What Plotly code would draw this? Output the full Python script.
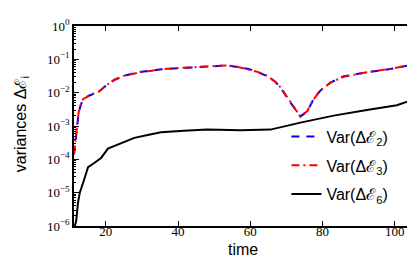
import plotly.graph_objects as go

time_var2 = [11.2, 11.6, 12.0, 12.5, 13.0, 13.7, 15.3, 16.5, 18.0, 20.0, 22.4, 25.0, 29.0,
             35.3, 41.6, 49.0, 53.7, 56.4, 59.6, 62.0, 64.7, 67.0, 68.4, 70.7, 72.5, 73.9,
             75.8, 77.5, 79.4, 82.2, 85.9, 92.3, 98.8, 104.8]
var2 = [1.4e-4, 3.2e-4, 1.0e-3, 2.5e-3, 4.0e-3, 6.3e-3, 8.1e-3, 9.3e-3, 1.05e-2, 1.6e-2,
        2.45e-2, 3.2e-2, 4.1e-2, 5.0e-2, 5.5e-2, 6.3e-2, 6.6e-2, 5.9e-2, 5.1e-2, 4.2e-2,
        3.1e-2, 2.1e-2, 1.4e-2, 5.9e-3, 3.2e-3, 1.95e-3, 2.7e-3, 6.3e-3, 1.15e-2, 2.0e-2,
        3.1e-2, 4.1e-2, 5.1e-2, 6.9e-2]
var3 = [1.5e-4, 3.4e-4, 1.05e-3, 2.6e-3, 4.1e-3, 6.4e-3, 8.0e-3, 9.4e-3, 1.06e-2, 1.62e-2,
        2.4e-2, 3.2e-2, 4.0e-2, 5.0e-2, 5.6e-2, 6.2e-2, 6.6e-2, 6.0e-2, 5.0e-2, 4.2e-2,
        3.2e-2, 2.1e-2, 1.45e-2, 6.0e-3, 3.1e-3, 1.9e-3, 2.8e-3, 6.2e-3, 1.15e-2, 2.0e-2,
        3.0e-2, 4.1e-2, 5.2e-2, 6.8e-2]

time_var6 = [11.2, 11.8, 12.3, 12.8, 13.7, 15.1, 16.9, 18.7, 20.6, 24.2, 27.9, 31.6, 35.3,
             41.6, 48.1, 57.3, 65.6, 73.9, 83.1, 92.3, 100.6, 104.8]
var6 = [8e-7, 1.4e-6, 5e-6, 1.0e-5, 1.95e-5, 5.8e-5, 7.9e-5, 1.1e-4, 2.1e-4, 2.95e-4,
        4.4e-4, 5.4e-4, 6.5e-4, 7.2e-4, 7.8e-4, 7.4e-4, 7.8e-4, 1.26e-3, 2.05e-3, 3.0e-3,
        4.2e-3, 6.0e-3]

x_ticks = [20, 40, 60, 80, 100]
y_ticks = [1e-6, 1e-5, 1e-4, 1e-3, 1e-2, 1e-1, 1]
y_tick_text = ["10<sup>−6</sup>", "10<sup>−5</sup>", "10<sup>−4</sup>", "10<sup>−3</sup>",
               "10<sup>−2</sup>", "10<sup>−1</sup>", "10<sup>0</sup>"]
y_minor = [m * 10.0 ** k for k in range(-6, 0) for m in range(2, 10)]

SANS = "Liberation Sans, Arial, sans-serif"
SERIF = "Liberation Serif, Times New Roman, serif"

fig = go.Figure()
fig.add_trace(go.Scatter(x=time_var2, y=var2, mode="lines", name="Var(Δℰ<sub>2</sub>)",
                         legendgroup="a",
                         line=dict(color="blue", width=2, dash="8px,7px")))
fig.add_trace(go.Scatter(x=time_var2, y=var3, mode="lines", name="Var(Δℰ<sub>3</sub>)",
                         legendgroup="b",
                         line=dict(color="red", width=2, dash="8px,4px,2px,4px")))
fig.add_trace(go.Scatter(x=time_var6, y=var6, mode="lines", name="Var(Δℰ<sub>6</sub>)",
                         legendgroup="c",
                         line=dict(color="black", width=2)))

fig.update_layout(
    width=415, height=257,
    margin=dict(l=66, r=10, t=9, b=39),
    paper_bgcolor="white", plot_bgcolor="white",
    showlegend=True,
    legend=dict(x=0.945, y=0.072, xanchor="right", yanchor="bottom",
                bgcolor="rgba(0,0,0,0)", borderwidth=0,
                font=dict(family=SANS, size=16, color="black"),
                tracegroupgap=5),
    font=dict(family=SANS, color="black"),
    annotations=[
        dict(text="time", xref="paper", yref="paper", x=0.5, y=-0.172,
             xanchor="center", yanchor="bottom", showarrow=False,
             font=dict(family=SANS, size=16, color="black")),
        dict(text="variances Δℰ<sub>i</sub>", xref="paper", yref="paper", x=-0.155, y=0.507,
             xanchor="center", yanchor="middle", textangle=-90, showarrow=False,
             font=dict(family=SANS, size=16, color="black")),
    ],
)
fig.update_xaxes(
    range=[11.2, 104.8], tickvals=x_ticks, ticks="inside", ticklen=5, tickwidth=1,
    tickcolor="black", showline=True, linecolor="black", linewidth=1.5, mirror="allticks",
    showgrid=False, zeroline=False, ticklabelstandoff=-7,
    tickfont=dict(family=SERIF, size=13, color="black"),
)
fig.update_yaxes(
    type="log", range=[-6, 0], tickvals=y_ticks, ticktext=y_tick_text, ticks="inside",
    ticklen=5, tickwidth=1, tickcolor="black", showline=True, linecolor="black",
    linewidth=1.5, mirror="allticks", showgrid=False, zeroline=False,
    tickfont=dict(family=SERIF, size=13, color="black"),
    minor=dict(tickvals=y_minor, ticks="inside", ticklen=2.5, tickcolor="black", showgrid=False),
)

fig.write_html("out.html")
